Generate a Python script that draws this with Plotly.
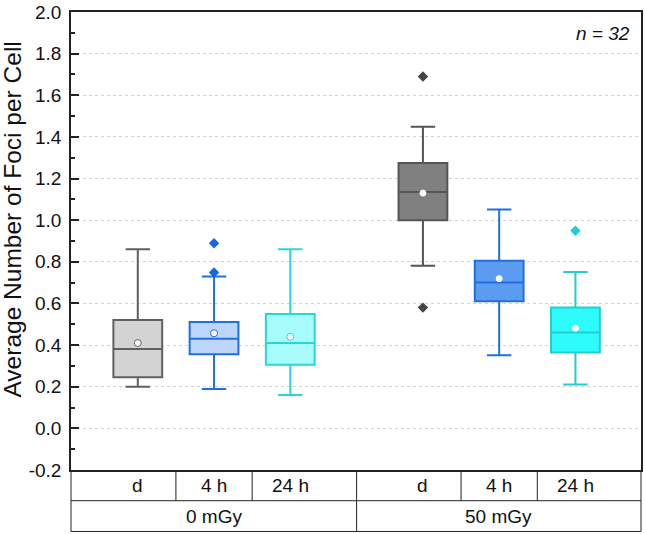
import plotly.graph_objects as go

# ---- data ----
doses = ["0 mGy", "50 mGy"]
times = ["d", "4 h", "24 h", "d", "4 h", "24 h"]
positions = [1, 2, 3, 4.74, 5.74, 6.74]
q1 = [0.246, 0.356, 0.306, 1.00, 0.611, 0.365]
median = [0.381, 0.430, 0.410, 1.135, 0.701, 0.460]
q3 = [0.520, 0.511, 0.549, 1.275, 0.805, 0.580]
lower = [0.200, 0.189, 0.160, 0.781, 0.351, 0.211]
upper = [0.860, 0.730, 0.860, 1.449, 1.051, 0.751]
means = [0.410, 0.457, 0.440, 1.130, 0.719, 0.481]
outliers = [[], [0.889, 0.749], [], [1.690, 0.580], [], [0.949]]
y_tickvals = [-0.2, 0.0, 0.2, 0.4, 0.6, 0.8, 1.0, 1.2, 1.4, 1.6, 1.8, 2.0]
y_ticktext = ["-0.2", "0.0", "0.2", "0.4", "0.6", "0.8", "1.0", "1.2", "1.4", "1.6", "1.8", "2.0"]
n_label = "n = 32"

fills = ["#d3d3d3", "#bed5fa", "#a9fcfc", "#808080", "#5c9cf0", "#2efcfc"]
lines = ["#606060", "#1f6fe3", "#27d6d6", "#555555", "#1f6fe3", "#22cdcd"]
out_col = ["#606060", "#1a66e0", "#22cdcd", "#444444", "#1a66e0", "#22cdcd"]
mean_line = ["#606060", "#1f6fe3", "#27d6d6", "#ffffff", "#ffffff", "#ffffff"]

FONT = "Liberation Sans, Arial, sans-serif"

fig = go.Figure()
for i in range(6):
    fig.add_trace(go.Box(
        x=[positions[i]], q1=[q1[i]], median=[median[i]], q3=[q3[i]],
        lowerfence=[lower[i]], upperfence=[upper[i]],
        fillcolor=fills[i], line=dict(color=lines[i], width=2),
        width=0.64, whiskerwidth=0.5, boxpoints=False, showlegend=False,
        hoverinfo="skip"))
    if outliers[i]:
        fig.add_trace(go.Scatter(
            x=[positions[i]] * len(outliers[i]), y=outliers[i], mode="markers",
            marker=dict(symbol="diamond", size=8, color=out_col[i]),
            showlegend=False, hoverinfo="skip"))
    fig.add_trace(go.Scatter(
        x=[positions[i]], y=[means[i]], mode="markers",
        marker=dict(symbol="circle", size=7 if i < 3 else 6, color="white",
                    line=dict(color=mean_line[i], width=1)),
        showlegend=False, hoverinfo="skip"))

xr = [0.124, 7.6]
fig.update_xaxes(range=xr, showticklabels=False, ticks="", showgrid=False,
                 zeroline=False, showline=True, mirror=True,
                 linecolor="#222222", linewidth=1.5)
fig.update_yaxes(range=[-0.2, 2.00001], tickvals=y_tickvals, ticktext=y_ticktext,
                 ticks="inside", ticklen=8, tickwidth=1.5, tickcolor="#222222",
                 minor=dict(ticks="inside", ticklen=4, dtick=0.1, tick0=0, tickwidth=1.5,
                            tickcolor="#222222", showgrid=False),
                 showgrid=True, gridcolor="#d2d2d2", griddash="dot", gridwidth=1,
                 zeroline=False, showline=True, mirror=True,
                 linecolor="#222222", linewidth=1.5, ticklabeloverflow="allow",
                 ticklabelstandoff=4,
                 tickfont=dict(family=FONT, size=19, color="#111111"))

# ---- category table below the plot ----
r1 = -31 / 462
r2 = -62 / 462
shapes = []
def seg(x0, y0, x1, y1, xref="x"):
    shapes.append(dict(type="line", xref=xref, yref="paper", x0=x0, y0=y0,
                       x1=x1, y1=y1, line=dict(color="#222222", width=1)))
seg(0, r1, 1, r1, "paper")
seg(0, r2, 1, r2, "paper")
seg(0, 0, 0, r2, "paper")
seg(1, 0, 1, r2, "paper")
group_div = (positions[2] + positions[3]) / 2
dividers = [(positions[k] + positions[k + 1]) / 2 for k in range(5)]
for d in dividers:
    seg(d, 0, d, r1)
seg(group_div, r1, group_div, r2)

annotations = []
for i, t in enumerate(times):
    annotations.append(dict(x=positions[i], y=r1 / 2, xref="x", yref="paper",
                            text=t, showarrow=False, xanchor="center", yanchor="middle",
                            font=dict(family=FONT, size=19, color="#111111")))
group_centers = [(xr[0] + group_div) / 2, (group_div + xr[1]) / 2]
for g, c in zip(doses, group_centers):
    annotations.append(dict(x=c, y=(r1 + r2) / 2, xref="x", yref="paper",
                            text=g, showarrow=False, xanchor="center", yanchor="middle",
                            font=dict(family=FONT, size=19, color="#111111")))
annotations.append(dict(x=0.985, y=0.952, xref="paper", yref="paper",
                        text="<i>" + n_label + "</i>", showarrow=False,
                        xanchor="right", yanchor="middle",
                        font=dict(family=FONT, size=19, color="#111111")))
annotations.append(dict(x=-0.102, y=(470 - 217.5) / 462, xref="paper", yref="paper",
                        text="Average Number of Foci per Cell", textangle=-90,
                        showarrow=False, xanchor="center", yanchor="middle",
                        font=dict(family=FONT, size=24.5, color="#111111")))

fig.update_layout(width=645, height=534,
                  margin=dict(l=71, r=2, t=8, b=64, pad=0),
                  plot_bgcolor="white", paper_bgcolor="white",
                  shapes=shapes, annotations=annotations, showlegend=False)
fig.write_html("out.html", config={"displayModeBar": False},
               post_script="document.body.style.margin='0';document.body.style.padding='0';")
